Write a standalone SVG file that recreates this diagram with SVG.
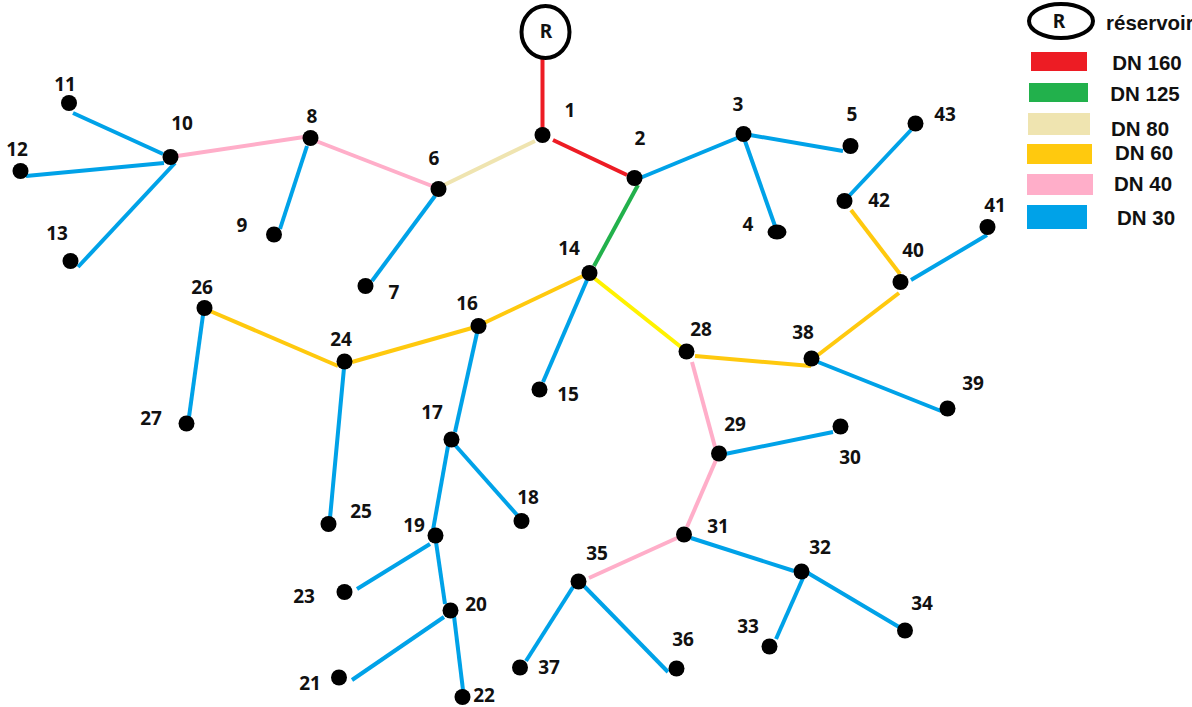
<svg xmlns="http://www.w3.org/2000/svg" width="1192" height="707" viewBox="0 0 1192 707">
<style>
.e{fill:none;stroke-width:4;stroke-linecap:butt}
.r{stroke:#ed1c24}.g{stroke:#22b14c}.k{stroke:#efe4b0}.y{stroke:#ffc90e}.l{stroke:#fff200}.p{stroke:#ffaec9}.b{stroke:#00a2e8}
.n{fill:#000}
text{font-family:"Noto Sans","Liberation Sans",sans-serif;font-weight:700;font-size:19px;fill:#111;text-anchor:middle}
.res{fill:#fff;stroke:#000;stroke-width:4}
text.lg{font-family:"Liberation Sans",Arial,sans-serif;font-size:20.5px}
</style>
<rect width="1192" height="707" fill="#fff"/>
<g id="connectors">
<line class="e r" x1="542.5" y1="58" x2="542.5" y2="130"/>
<line class="e r" x1="553" y1="140" x2="627" y2="175"/>
<line class="e k" x1="535" y1="141" x2="444" y2="185"/>
<line class="e p" x1="432" y1="186" x2="316" y2="141"/>
<line class="e p" x1="304" y1="137" x2="177" y2="156"/>
<line class="e b" x1="307" y1="146" x2="280" y2="229"/>
<line class="e b" x1="163" y1="154" x2="73" y2="113"/>
<line class="e b" x1="164" y1="163" x2="26" y2="176"/>
<line class="e b" x1="175" y1="163" x2="78" y2="267"/>
<line class="e b" x1="435" y1="196" x2="372" y2="281"/>
<line class="e b" x1="640" y1="178" x2="737" y2="138"/>
<line class="e b" x1="750" y1="135" x2="843" y2="151"/>
<line class="e b" x1="745" y1="141" x2="775" y2="226"/>
<line class="e g" x1="638" y1="185" x2="594" y2="266"/>
<line class="e y" x1="583" y1="276" x2="484" y2="323"/>
<line class="e l" x1="594" y1="278" x2="681" y2="347"/>
<line class="e b" x1="587" y1="280" x2="543" y2="382"/>
<line class="e y" x1="472" y1="328" x2="352" y2="362"/>
<line class="e y" x1="338" y1="366" x2="210" y2="311"/>
<line class="e b" x1="203" y1="315" x2="189" y2="417"/>
<line class="e b" x1="344" y1="368" x2="330" y2="518"/>
<line class="e b" x1="477" y1="333" x2="455" y2="432"/>
<line class="e b" x1="448" y1="446" x2="433" y2="530"/>
<line class="e b" x1="455" y1="445" x2="518" y2="516"/>
<line class="e b" x1="430" y1="544" x2="357" y2="589"/>
<line class="e b" x1="436" y1="542" x2="445" y2="604"/>
<line class="e b" x1="444" y1="617" x2="352" y2="680"/>
<line class="e b" x1="454" y1="616" x2="463" y2="690"/>
<line class="e y" x1="695" y1="356" x2="811" y2="366"/>
<line class="e p" x1="692" y1="362" x2="715" y2="447"/>
<line class="e b" x1="725" y1="454" x2="833" y2="432"/>
<line class="e p" x1="716" y1="460" x2="687" y2="527"/>
<line class="e p" x1="677" y1="538" x2="589" y2="578"/>
<line class="e b" x1="691" y1="538" x2="794" y2="571"/>
<line class="e b" x1="808" y1="573" x2="899" y2="627"/>
<line class="e b" x1="803" y1="578" x2="776" y2="639"/>
<line class="e b" x1="573" y1="587" x2="526" y2="661"/>
<line class="e b" x1="584" y1="586" x2="668" y2="672"/>
<line class="e b" x1="818" y1="362" x2="941" y2="411"/>
<line class="e y" x1="818" y1="355" x2="899" y2="293"/>
<line class="e b" x1="911" y1="280" x2="987" y2="235"/>
<line class="e y" x1="900" y1="274" x2="851" y2="210"/>
<line class="e b" x1="849" y1="196" x2="911" y2="130"/>
</g>
<g id="R"><ellipse class="res" cx="545.5" cy="32" rx="24" ry="26"/><text x="546" y="38">R</text></g>
<g id="n1"><circle class="n" cx="542.5" cy="135" r="8"/><text x="570" y="117">1</text></g>
<g id="n2"><circle class="n" cx="634.5" cy="178" r="8"/><text x="640" y="145">2</text></g>
<g id="n3"><circle class="n" cx="743.5" cy="134" r="8"/><text x="738" y="111">3</text></g>
<g id="n4"><ellipse class="n" cx="777" cy="232" rx="9.5" ry="7.5"/><text x="748" y="231">4</text></g>
<g id="n5"><circle class="n" cx="850.5" cy="146" r="8"/><text x="852" y="121">5</text></g>
<g id="n6"><circle class="n" cx="438.5" cy="189" r="8"/><text x="434" y="165">6</text></g>
<g id="n7"><circle class="n" cx="365.5" cy="286" r="8"/><text x="394" y="299">7</text></g>
<g id="n8"><circle class="n" cx="310.5" cy="138" r="8"/><text x="312" y="123">8</text></g>
<g id="n9"><circle class="n" cx="274" cy="234.5" r="8"/><text x="242" y="232">9</text></g>
<g id="n10"><circle class="n" cx="170.5" cy="157" r="8"/><text x="182" y="130">10</text></g>
<g id="n11"><circle class="n" cx="69" cy="103" r="8"/><text x="65" y="91">11</text></g>
<g id="n12"><circle class="n" cx="20.5" cy="171" r="8"/><text x="17" y="156">12</text></g>
<g id="n13"><circle class="n" cx="70.5" cy="261" r="8"/><text x="57" y="240">13</text></g>
<g id="n14"><circle class="n" cx="589.5" cy="273" r="8"/><text x="569" y="255">14</text></g>
<g id="n15"><circle class="n" cx="539.5" cy="389.5" r="8"/><text x="568" y="401">15</text></g>
<g id="n16"><circle class="n" cx="478.5" cy="326" r="8"/><text x="467" y="310">16</text></g>
<g id="n17"><circle class="n" cx="451.5" cy="439.5" r="8"/><text x="432" y="419">17</text></g>
<g id="n18"><circle class="n" cx="521.5" cy="521" r="8"/><text x="528" y="504">18</text></g>
<g id="n19"><circle class="n" cx="435.5" cy="535.5" r="8"/><text x="414" y="532">19</text></g>
<g id="n20"><circle class="n" cx="450.5" cy="610.5" r="8"/><text x="476" y="611">20</text></g>
<g id="n21"><circle class="n" cx="339" cy="677.5" r="8"/><text x="310" y="690">21</text></g>
<g id="n22"><circle class="n" cx="462.5" cy="697" r="8"/><text x="484" y="702">22</text></g>
<g id="n23"><circle class="n" cx="344.5" cy="592" r="8"/><text x="304" y="603">23</text></g>
<g id="n24"><circle class="n" cx="344.5" cy="361.5" r="8"/><text x="341" y="346">24</text></g>
<g id="n25"><circle class="n" cx="328.5" cy="524" r="8"/><text x="361" y="518">25</text></g>
<g id="n26"><circle class="n" cx="204.5" cy="308" r="8"/><text x="202" y="294">26</text></g>
<g id="n27"><circle class="n" cx="186.5" cy="423.5" r="8"/><text x="151" y="425">27</text></g>
<g id="n28"><circle class="n" cx="686.5" cy="351.5" r="8"/><text x="701" y="336">28</text></g>
<g id="n29"><circle class="n" cx="719" cy="453.5" r="8"/><text x="735" y="431">29</text></g>
<g id="n30"><circle class="n" cx="840.5" cy="426.5" r="8"/><text x="850" y="464">30</text></g>
<g id="n31"><circle class="n" cx="684" cy="534.5" r="8"/><text x="718" y="533">31</text></g>
<g id="n32"><circle class="n" cx="801.5" cy="571.5" r="8"/><text x="820" y="554">32</text></g>
<g id="n33"><circle class="n" cx="769.5" cy="646.5" r="8"/><text x="748" y="633">33</text></g>
<g id="n34"><circle class="n" cx="905" cy="630.5" r="8"/><text x="922" y="610">34</text></g>
<g id="n35"><circle class="n" cx="578.5" cy="581.5" r="8"/><text x="597" y="560">35</text></g>
<g id="n36"><circle class="n" cx="676.5" cy="668.5" r="8"/><text x="683" y="646">36</text></g>
<g id="n37"><circle class="n" cx="520" cy="667.5" r="8"/><text x="549" y="674">37</text></g>
<g id="n38"><circle class="n" cx="811.5" cy="358.5" r="8"/><text x="803" y="339">38</text></g>
<g id="n39"><circle class="n" cx="947.5" cy="408.5" r="8"/><text x="973" y="390">39</text></g>
<g id="n40"><circle class="n" cx="900.5" cy="282" r="8"/><text x="913" y="257">40</text></g>
<g id="n41"><circle class="n" cx="987.5" cy="227" r="8"/><text x="995" y="212">41</text></g>
<g id="n42"><circle class="n" cx="844.5" cy="201" r="8"/><text x="879" y="207">42</text></g>
<g id="n43"><circle class="n" cx="915.5" cy="123.5" r="8"/><text x="945" y="121">43</text></g>
<g id="legend">
<ellipse cx="1061" cy="21" rx="32" ry="17" fill="#fff" stroke="#000" stroke-width="4"/><text x="1059" y="28">R</text>
<text x="1106" y="30" class="lg" style="text-anchor:start">réservoir</text>
<rect x="1031" y="52" width="56" height="19" fill="#ed1c24"/><text class="lg" x="1147" y="70">DN 160</text>
<rect x="1029" y="83" width="59" height="19" fill="#22b14c"/><text class="lg" x="1145" y="101">DN 125</text>
<rect x="1028" y="113" width="62" height="22" fill="#efe4b0"/><text class="lg" x="1140" y="136">DN 80</text>
<rect x="1027" y="144" width="65" height="20" fill="#ffc90e"/><text class="lg" x="1144" y="160">DN 60</text>
<rect x="1027" y="174" width="66" height="21" fill="#ffaec9"/><text class="lg" x="1143" y="191">DN 40</text>
<rect x="1027" y="205" width="60" height="24" fill="#00a2e8"/><text class="lg" x="1146" y="225">DN 30</text>
</g>
</svg>
